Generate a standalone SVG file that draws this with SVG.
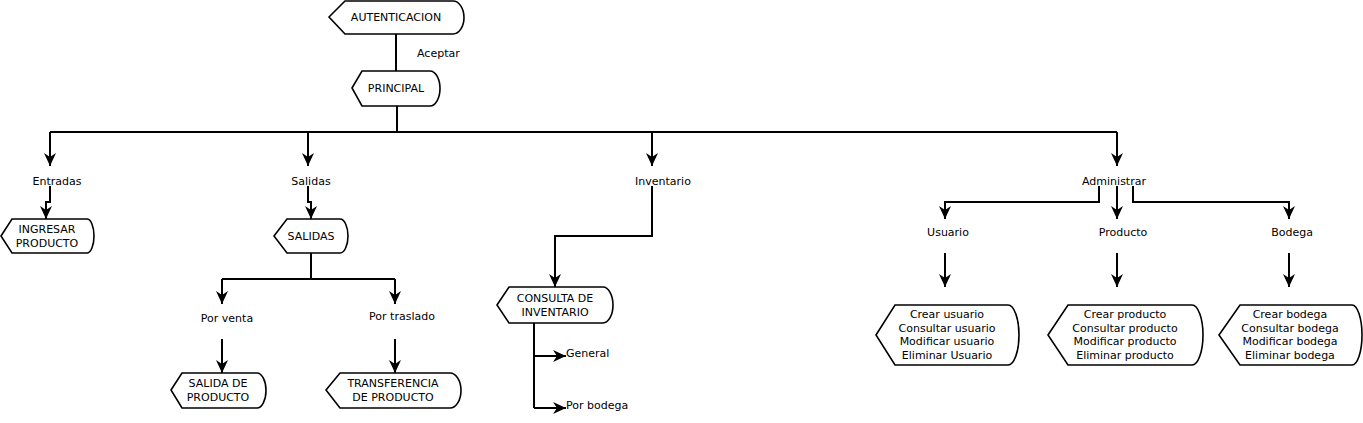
<svg xmlns="http://www.w3.org/2000/svg" width="1363" height="423" viewBox="0 0 1363 423">
<style>
text{font-family:"DejaVu Sans","Liberation Sans",sans-serif;font-size:11px;fill:#000;text-anchor:middle}
.l{text-anchor:start}
.box{fill:#fff;stroke:#000;stroke-width:1.6}
.c{fill:none;stroke:#000;stroke-width:2}
.a{marker-end:url(#ah)}
</style>
<defs>
<marker id="ah" markerUnits="userSpaceOnUse" markerWidth="16" markerHeight="16" viewBox="-14 -8 16 16" refX="0" refY="0" orient="auto">
<path d="M0,0 L-13,-6 L-9,0 L-13,6 Z" fill="#000"/>
</marker>
</defs>
<g id="connectors">
<path class="c" d="M396,34 V71"/>
<path class="c" d="M397,106 V132 M50,132 H1117"/>
<path class="c a" d="M50,132 V166"/>
<path class="c a" d="M308,132 V166"/>
<path class="c a" d="M652,132 V166"/>
<path class="c a" d="M1117,132 V166"/>
<path class="c a" d="M50,186 V202 H46 V219"/>
<path class="c a" d="M308,186 V202 H311 V219"/>
<path class="c" d="M311,253 V279 M222,279 H395"/>
<path class="c a" d="M222,279 V304"/>
<path class="c a" d="M395,279 V304"/>
<path class="c a" d="M222,339 V373"/>
<path class="c a" d="M395,339 V373"/>
<path class="c a" d="M652,186 V236 H555 V287"/>
<path class="c" d="M534,323 V408"/>
<path class="c a" d="M534,356 H566"/>
<path class="c a" d="M534,408 H566"/>
<path class="c a" d="M1099,186 V202 H945 V219"/>
<path class="c a" d="M1117,186 V219"/>
<path class="c a" d="M1133,186 V202 H1289 V219"/>
<path class="c a" d="M945,253 V287"/>
<path class="c a" d="M1117,253 V287"/>
<path class="c a" d="M1289,253 V287"/>
</g>
<g id="labels">
<text class="l" x="417" y="57">Aceptar</text>
<text x="57" y="185">Entradas</text>
<text x="311" y="185">Salidas</text>
<text x="663" y="185">Inventario</text>
<text x="1114" y="185">Administrar</text>
<text x="227" y="322">Por venta</text>
<text x="402" y="320">Por traslado</text>
<text class="l" x="566" y="357">General</text>
<text class="l" x="566" y="409">Por bodega</text>
<text x="948" y="236">Usuario</text>
<text x="1123" y="236">Producto</text>
<text x="1292" y="236">Bodega</text>
</g>
<g id="autenticacion">
<path class="box" d="M329,17 L345,1 H453 A11,16.5 0 0 1 453,34 H345 Z"/>
<text x="396" y="21">AUTENTICACION</text>
</g>
<g id="principal">
<path class="box" d="M352,88 L362,71 H430 A10,17.5 0 0 1 430,106 H362 Z"/>
<text x="396" y="92">PRINCIPAL</text>
</g>
<g id="ingresar">
<path class="box" d="M1,236 L12,219 H87 A7,17 0 0 1 87,253 H12 Z"/>
<text x="47" y="233">INGRESAR</text>
<text x="47" y="247">PRODUCTO</text>
</g>
<g id="salidas">
<path class="box" d="M274,236 L287,219 H340 A8,17 0 0 1 340,253 H287 Z"/>
<text x="311" y="240">SALIDAS</text>
</g>
<g id="salida-producto">
<path class="box" d="M171,390 L182,373 H257 A9,17.5 0 0 1 257,408 H182 Z"/>
<text x="218" y="387">SALIDA DE</text>
<text x="218" y="401">PRODUCTO</text>
</g>
<g id="transferencia">
<path class="box" d="M326,390 L340,373 H450 A11,17.5 0 0 1 450,408 H340 Z"/>
<text x="393" y="387">TRANSFERENCIA</text>
<text x="393" y="401">DE PRODUCTO</text>
</g>
<g id="consulta-inventario">
<path class="box" d="M497,305 L509,287 H603 A10,18 0 0 1 603,323 H509 Z"/>
<text x="555" y="302">CONSULTA DE</text>
<text x="555" y="316">INVENTARIO</text>
</g>
<g id="usuario-box">
<path class="box" d="M876,335 L895,305 H1008 A11,30 0 0 1 1008,365 H895 Z"/>
<text x="947" y="318">Crear usuario</text>
<text x="947" y="332">Consultar usuario</text>
<text x="947" y="345">Modificar usuario</text>
<text x="947" y="359">Eliminar Usuario</text>
</g>
<g id="producto-box">
<path class="box" d="M1048,335 L1068,305 H1192 A11,30 0 0 1 1192,365 H1068 Z"/>
<text x="1125" y="318">Crear producto</text>
<text x="1125" y="332">Consultar producto</text>
<text x="1125" y="345">Modificar producto</text>
<text x="1125" y="359">Eliminar producto</text>
</g>
<g id="bodega-box">
<path class="box" d="M1219,335 L1240,305 H1352 A10,30 0 0 1 1352,365 H1240 Z"/>
<text x="1290" y="318">Crear bodega</text>
<text x="1290" y="332">Consultar bodega</text>
<text x="1290" y="345">Modificar bodega</text>
<text x="1290" y="359">Eliminar bodega</text>
</g>
</svg>
